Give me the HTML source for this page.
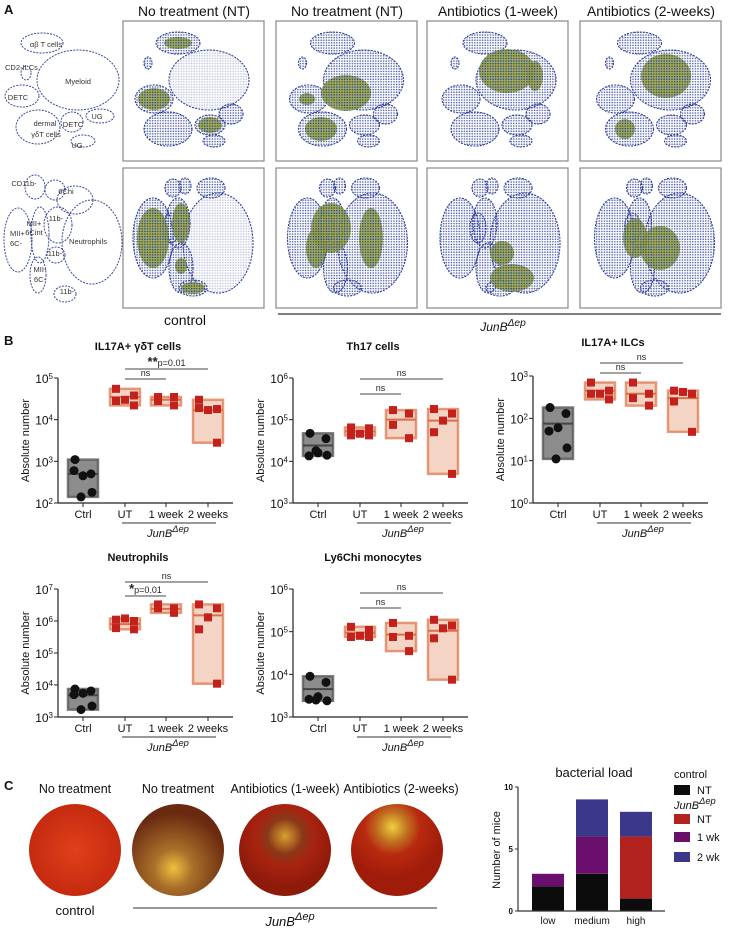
<!DOCTYPE html>
<html><head><meta charset="utf-8">
<style>
html,body{margin:0;padding:0;background:#fff;}
svg{display:block;font-family:"Liberation Sans",sans-serif;}
</style></head>
<body>
<svg id="fig" width="742" height="931" viewBox="0 0 742 931" xmlns="http://www.w3.org/2000/svg">
<defs>
<pattern id="dots" width="2.6" height="2.6" patternUnits="userSpaceOnUse"><circle cx="1" cy="1" r="0.8" fill="#2f3f9e"/></pattern>
<pattern id="dense" width="2.6" height="2.6" patternUnits="userSpaceOnUse"><rect width="2.6" height="2.6" fill="#8fb03a"/><circle cx="1" cy="1" r="0.8" fill="#2d3f9a"/><circle cx="2.1" cy="2" r="0.5" fill="#e07a20"/></pattern>
<radialGradient id="plate1" cx="50%" cy="50%" r="50%"><stop offset="0" stop-color="#e0401a"/><stop offset="1" stop-color="#c52a10"/></radialGradient>
<radialGradient id="plate2" cx="45%" cy="70%" r="60%"><stop offset="0" stop-color="#f0c040"/><stop offset="0.35" stop-color="#a8702a"/><stop offset="1" stop-color="#6a2a10"/></radialGradient>
<radialGradient id="plate3" cx="50%" cy="35%" r="55%"><stop offset="0" stop-color="#d8a030"/><stop offset="0.35" stop-color="#8a3818"/><stop offset="0.6" stop-color="#a82210"/><stop offset="1" stop-color="#8e1a0a"/></radialGradient>
<radialGradient id="plate4" cx="45%" cy="25%" r="55%"><stop offset="0" stop-color="#f0d040"/><stop offset="0.3" stop-color="#c07020"/><stop offset="0.55" stop-color="#b82a10"/><stop offset="1" stop-color="#a01c0a"/></radialGradient>
</defs>
<g id="panelA"></g>
<g id="panelB"></g>
<g id="panelC"></g>
</svg>
<script>
// ---------- Panel B data ----------
const categories = ['Ctrl','UT','1 week','2 weeks'];
const gdtCtrl = [1100,500,450,600,180,140];
const gdtUT = [55000,38000,30000,28000,22000];
const gdt1wk = [35000,35000,28000,22000];
const gdt2wk = [30000,18000,17000,19000,2800];
const th17Ctrl = [47000,35000,16000,13500,14000,18000];
const th17UT = [65000,62000,46000,42000,42000];
const th171wk = [170000,140000,75000,36000];
const th172wk = [180000,140000,95000,50000,5000];
const ilcCtrl = [180,130,60,50,20,11];
const ilcUT = [700,450,380,380,280];
const ilc1wk = [700,380,300,200];
const ilc2wk = [450,380,420,250,48];
const neuCtrl = [7500,6500,5500,5000,2200,1700];
const neuUT = [1100000,1000000,1200000,600000,550000];
const neu1wk = [3300000,2500000,2500000,1800000];
const neu2wk = [3300000,2500000,1300000,550000,11000];
const ly6Ctrl = [9000,6500,3000,2600,2400,2500];
const ly6UT = [130000,110000,80000,75000,75000];
const ly61wk = [160000,80000,75000,35000];
const ly62wk = [190000,140000,120000,70000,7500];
const gdtMedians = [500,35000,30000,17000];
const th17Medians = [24000,52000,100000,95000];
const ilcMedians = [75,450,380,300];
const neuMedians = [4800,800000,2400000,1500000];
const ly6Medians = [4500,95000,85000,105000];
// ---------- Panel C bar data ----------
const barCats = ['low','medium','high'];
const ctrlNT = [2,3,1];
const junNT = [0,0,5];
const jun1wk = [1,3,0];
const jun2wk = [0,3,2];
const barTicks = [0,5,10];

const NS='http://www.w3.org/2000/svg';
function mk(tag, attrs, parent){const e=document.createElementNS(NS,tag);for(const k in attrs)e.setAttribute(k,attrs[k]);if(parent)parent.appendChild(e);return e;}
function txt(parent,x,y,s,size,opts){opts=opts||{};const t=mk('text',{x:x,y:y,'font-size':size,'text-anchor':opts.anchor||'middle',fill:opts.fill||'#111'},parent);if(opts.weight)t.setAttribute('font-weight',opts.weight);if(opts.style)t.setAttribute('font-style',opts.style);if(opts.transform)t.setAttribute('transform',opts.transform);t.textContent=s;return t;}
function junb(parent,x,y,size,anchor){const t=mk('text',{x:x,y:y,'font-size':size,'text-anchor':anchor||'middle','font-style':'italic',fill:'#111'},parent);const a=mk('tspan',{},t);a.textContent='JunB';const b=mk('tspan',{'baseline-shift':'super','font-size':size*0.85},t);b.textContent='\u0394ep';return t;}

// ================= PANEL A =================
const A=document.getElementById('panelA');
txt(A,4,14,'A',13,{anchor:'start',weight:'bold'});
const colTitles=['No treatment (NT)','No treatment (NT)','Antibiotics (1-week)','Antibiotics (2-weeks)'];
const colX=[123,276,427,580];
const rowY=[21,168];
colTitles.forEach((s,i)=>{const t=txt(A,colX[i]+71,16,s,14,{});t.setAttribute('textLength',i<2?112:i==2?120:128);t.setAttribute('lengthAdjust','spacingAndGlyphs');});
const blobs1=[[55,22,22,11],[86,59,40,30],[31,78,19,14],[45,108,24,17],[87,104,15,10],[108,93,12,10],[91,120,11,6],[25,42,4,6]];
const blobs2=[[50,20,8,9],[62,18,6,8],[88,20,14,10],[30,70,20,40],[55,55,12,25],[58,100,12,25],[95,75,35,50],[70,120,14,8],[48,60,8,15]];
const dense=[
 [[[55,22,14,6],[31,78,16,11],[87,104,12,8]],[[30,70,16,30],[58,55,9,20],[58,98,6,8],[70,120,12,6]]],
 [[[70,72,25,18],[45,108,16,12],[31,78,8,6]],[[55,60,20,25],[95,70,12,30],[40,80,10,20]]],
 [[[80,50,28,22],[108,55,8,15]],[[85,110,22,14],[75,85,12,12]]],
 [[[86,55,25,22],[45,108,10,10]],[[80,80,20,22],[55,70,12,20]]]
];
for(let r=0;r<2;r++){for(let c=0;c<4;c++){
 const g=mk('g',{transform:`translate(${colX[c]},${rowY[r]})`},A);
 
 
 mk('rect',{x:0,y:0,width:141,height:140,fill:'#fff',stroke:'#888','stroke-width':1.2},g);
 const bl=r==0?blobs1:blobs2;
 bl.forEach((b,k)=>{const light=(c==0&&((r==0&&k==1)||(r==1&&k==6)));mk('ellipse',{cx:b[0]+c*1.5,cy:b[1],rx:b[2],ry:b[3],fill:'url(#dots)','fill-opacity':light?0.3:0.8,stroke:'#2f3f96','stroke-width':1.1,'stroke-dasharray':'2 1.2'},g);});
 dense[c][r].forEach(b=>{mk('ellipse',{cx:b[0],cy:b[1],rx:b[2],ry:b[3],fill:'url(#dense)','fill-opacity':0.9},g);});
}}
// schematic
const S=mk('g',{},A);


const sch=[[42,43,21,10],[26,73,5,7],[78,80,41,30],[22,96,17,11],[38,127,22,17],[72,122,11,10],[100,116,14,7],[83,141,12,6],
 [35,187,10,12],[55,190,10,10],[75,200,18,14],[92,242,30,42],[18,240,14,32],[40,235,9,28],[58,225,14,18],[56,255,9,8],[38,275,8,18],[65,294,11,8]];
sch.forEach(b=>mk('ellipse',{cx:b[0],cy:b[1],rx:b[2],ry:b[3],fill:'none',stroke:'#3a4a9a','stroke-width':1,'stroke-dasharray':'2 1.2'},S));
[['\u03b1\u03b2 T cells',46,47],['CD2-ILCs',5,70],['Myeloid',78,84],['DETC',18,100],['dermal',45,126],['\u03b3\u03b4T cells',46,137],['DETC',73,127],['UG',97,119],['UG',77,148],
 ['CD11b-',24,186],['6Chi',66,194],['11b-',56,221],['MII+',34,226],['6Cint',34,235],['MII+',10,236],['6C-',10,246],['Neutrophils',88,244],['11b-',55,256],['MII-',40,272],['6C-',40,282],['11b-',67,294]]
 .forEach(l=>{txt(S,l[1],l[2],l[0],7.5,{anchor:(l[1]<15)?'start':'middle',fill:'#333'});});
txt(A,185,325,'control',14,{});
mk('line',{x1:278,y1:314,x2:721,y2:314,stroke:'#333','stroke-width':1.2},A);
junb(A,503,331,12);

// ================= PANEL B =================
const B=document.getElementById('panelB');
txt(B,4,345,'B',13,{anchor:'start',weight:'bold'});
const catOff=[25,67,108,150];
const jit=[[-8,8,0,-9,9,-2],[-9,9,0,-9,9],[-8,8,-8,8],[-9,9,0,-9,9]];
function chart(o){
 const g=mk('g',{},B);
 
 
 const yScale=v=>o.yBot-(Math.log10(v)-o.dBot)*(o.yBot-o.yTop)/(o.dTop-o.dBot);
 const xScale=i=>o.ax+catOff[i];
 const tt=txt(g,o.ax+80,o.yTop-28+(o.titleDy||0),o.title,11,{weight:'bold'});
 
 const yl=txt(g,0,0,'Absolute number',11,{transform:`translate(${o.ax-29},${(o.yTop+o.yBot)/2}) rotate(-90)`});
 
 mk('line',{x1:o.ax,y1:o.yTop,x2:o.ax,y2:o.yBot,stroke:'#222','stroke-width':1.2},g);
 mk('line',{x1:o.ax,y1:o.yBot,x2:o.ax+175,y2:o.yBot,stroke:'#222','stroke-width':1.2},g);
 for(let d=o.dBot;d<=o.dTop;d++){const y=yScale(Math.pow(10,d));
  mk('line',{x1:o.ax-4,y1:y,x2:o.ax,y2:y,stroke:'#222','stroke-width':1},g);
  const t=mk('text',{x:o.ax-5,y:y+5,'font-size':12,'text-anchor':'end',fill:'#111'},g);
  const a=mk('tspan',{},t);a.textContent='10';const b=mk('tspan',{'baseline-shift':'super','font-size':8},t);b.textContent=String(d);
  
 }
 categories.forEach((c,i)=>{const x=xScale(i);mk('line',{x1:x,y1:o.yBot,x2:x,y2:o.yBot+4,stroke:'#222'},g);
  const t=txt(g,x,o.yBot+15,c,11,{});});
 mk('line',{x1:o.ax+64,y1:o.yBot+20,x2:o.ax+158,y2:o.yBot+20,stroke:'#333','stroke-width':1},g);
 junb(g,o.ax+110,o.yBot+34,11);
 o.series.forEach((vals,i)=>{
  const x=xScale(i);const mn=Math.min(...vals),mx=Math.max(...vals);
  const ctrl=i==0;
  const box=mk('rect',{x:x-15,y:yScale(mx),width:30,height:yScale(mn)-yScale(mx),fill:ctrl?'#8c8c8c':'#f4d4c4',stroke:ctrl?'#5a5a5a':'#e0805a','stroke-width':2.5,'stroke-opacity':0.8},g);
  
  const my=yScale(o.medians[i]);
  const ml=mk('line',{x1:x-15,y1:my,x2:x+15,y2:my,stroke:ctrl?'#444':'#d8704a','stroke-width':2},g);
  
  vals.forEach((v,k)=>{const px=x+jit[i][k%jit[i].length],py=yScale(v);let p;
   if(ctrl)p=mk('circle',{cx:px,cy:py,r:4.5,fill:'#111'},g);
   else p=mk('rect',{x:px-4,y:py-4,width:8,height:8,fill:'#c4201c'},g);
   });
 });
 o.sig.forEach(s=>{const x1=xScale(s[0]),x2=xScale(s[1]);
  const l=mk('line',{x1:x1,y1:s[2],x2:x2,y2:s[2],stroke:'#444','stroke-width':1},g);
  
  const t=mk('text',{x:(x1+x2)/2,y:s[2]-3,'font-size':9,'text-anchor':'middle',fill:'#222'},g);
  if(s[3]=='ns'){t.textContent='ns';}else{const a=mk('tspan',{'font-size':13,'font-weight':'bold'},t);a.textContent=s[3];const b=mk('tspan',{'font-size':9},t);b.textContent='p=0.01';}
  
 });
}
chart({name:'chart-il17a-gdt',title:'IL17A+ \u03b3\u03b4T cells',ax:58,yTop:378,yBot:503,dTop:5,dBot:2,series:[gdtCtrl,gdtUT,gdt1wk,gdt2wk],medians:gdtMedians,sig:[[1,2,379,'ns'],[1,3,369,'**']]});
chart({name:'chart-th17',title:'Th17 cells',ax:293,yTop:378,yBot:503,dTop:6,dBot:3,series:[th17Ctrl,th17UT,th171wk,th172wk],medians:th17Medians,sig:[[1,2,394,'ns'],[1,3,379,'ns']]});
chart({name:'chart-il17a-ilcs',title:'IL17A+ ILCs',ax:533,yTop:376,yBot:503,dTop:3,dBot:0,titleDy:-2,series:[ilcCtrl,ilcUT,ilc1wk,ilc2wk],medians:ilcMedians,sig:[[1,2,373,'ns'],[1,3,363,'ns']]});
chart({name:'chart-neutrophils',title:'Neutrophils',ax:58,yTop:589,yBot:717,dTop:7,dBot:3,series:[neuCtrl,neuUT,neu1wk,neu2wk],medians:neuMedians,sig:[[1,2,596,'*'],[1,3,582,'ns']]});
chart({name:'chart-ly6chi',title:'Ly6Chi monocytes',ax:293,yTop:589,yBot:717,dTop:6,dBot:3,series:[ly6Ctrl,ly6UT,ly61wk,ly62wk],medians:ly6Medians,sig:[[1,2,608,'ns'],[1,3,593,'ns']]});

// ================= PANEL C =================
const C=document.getElementById('panelC');
txt(C,4,790,'C',13,{anchor:'start',weight:'bold'});
const plateTitles=['No treatment','No treatment','Antibiotics (1-week)','Antibiotics (2-weeks)'];
const plateX=[75,178,285,397];
plateTitles.forEach((s,i)=>{const t=txt(C,plateX[i]+(i==3?4:0),793,s,12.5,{});
 const p=mk('circle',{cx:plateX[i],cy:850,r:46,fill:`url(#plate${i+1})`},C);
 });
txt(C,75,915,'control',13,{});
mk('line',{x1:133,y1:908,x2:437,y2:908,stroke:'#333','stroke-width':1},C);
junb(C,290,926,13);

// bar chart
const BC=mk('g',{},C);


const bAx=518,bY0=911,bY10=787;
const by=v=>bY0-v*(bY0-bY10)/10;
const bx=i=>548+i*44;
txt(BC,594,777,'bacterial load',13,{});
const yl=txt(BC,0,0,'Number of mice',11,{transform:`translate(500,850) rotate(-90)`});

const seriesC=[ctrlNT,junNT,jun1wk,jun2wk];
const colorsC=['#0c0c0c','#b2221e','#6a106c','#3b378a'];
barCats.forEach((c,i)=>{let acc=0;
 seriesC.forEach((s,k)=>{if(s[i]>0){const r=mk('rect',{x:bx(i)-16,y:by(acc+s[i]),width:32,height:by(acc)-by(acc+s[i]),fill:colorsC[k]},BC);
  }acc+=s[i];});
 const t=txt(BC,bx(i),924,c,10,{});
});
mk('line',{x1:bAx,y1:bY10,x2:bAx,y2:bY0,stroke:'#333','stroke-width':1.2},BC);
mk('line',{x1:bAx,y1:bY0,x2:665,y2:bY0,stroke:'#333','stroke-width':1.2},BC);
barTicks.forEach(v=>{mk('line',{x1:bAx-3,y1:by(v),x2:bAx,y2:by(v),stroke:'#333'},BC);
 const t=txt(BC,bAx-5,by(v)+3,String(v),8,{anchor:'end',weight:'bold'});});
// legend
const L=mk('g',{},C);


txt(L,674,778,'control',11,{anchor:'start'});
junb(L,674,809,11,'start');
const legItems=[['NT',785,0],['NT',814,1],['1 wk',832,2],['2 wk',852,3]];
legItems.forEach(li=>{const r=mk('rect',{x:674,y:li[1],width:16,height:10,fill:colorsC[li[2]]},L);
 
 const t=txt(L,697,li[1]+9,li[0],11,{anchor:'start'});});
</script>
</body></html>
